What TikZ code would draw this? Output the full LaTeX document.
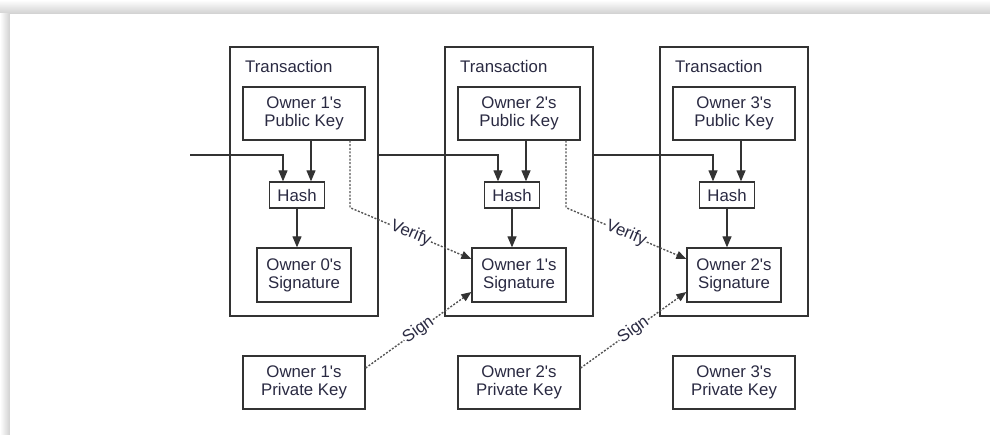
\documentclass[tikz,border=0pt]{standalone}
\usepackage{fontspec}
\setmainfont{Liberation Sans}
\usetikzlibrary{arrows.meta}
\definecolor{ink}{HTML}{2A2A42}
\definecolor{edge}{HTML}{333333}
\definecolor{dots}{HTML}{555555}
\definecolor{shade}{HTML}{D0D0D0}
\newcommand{\apos}{\textquotesingle}
\begin{document}
\begin{tikzpicture}[x=1pt,y=-1pt,
  font=\fontsize{16.8}{18}\selectfont,
  txbox/.style={draw=edge,line width=1.5pt,minimum width=148pt,minimum height=269pt,inner sep=0pt},
  box/.style={draw=edge,line width=1.3pt,text=ink,align=center,inner sep=0pt},
  keybox/.style={box,minimum width=122pt,minimum height=53pt},
  hashbox/.style={box,minimum width=55pt,minimum height=26pt},
  sigbox/.style={box,minimum width=94pt,minimum height=54pt},
  arr/.style={draw=edge,line width=1.2pt,-{Triangle[length=11pt,width=9pt]}},
  dotarr/.style={draw=dots,line width=1.4pt,dash pattern=on 2pt off 1.6pt,
    -{Triangle[length=10pt,width=8pt,color=edge]}},
  lbl/.style={sloped,fill=white,inner sep=0.5pt,text=ink}
]
\useasboundingbox (0,0) rectangle (990,435);
% page shadow along the top and left edges
\shade[top color=white,bottom color=shade] (0,0) rectangle (990,14);
\shade[left color=white,right color=shade] (0,14) rectangle (10,435);
\fill[white] (10,14) rectangle (990,435);

% three transaction columns
\foreach \i in {1,2,3}{
  \pgfmathsetmacro\cx{304+215*(\i-1)}
  \pgfmathtruncatemacro\prev{\i-1}
  \node[txbox] (T\i) at (\cx,181.5) {};
  \node[anchor=west,text=ink,inner sep=0pt] (L\i) at (\cx-59,66) {Transaction};
  \node[keybox] (PK\i) at (\cx,113.5) {Owner \i\apos s\\Public Key};
  \node[hashbox] (H\i) at (\cx-7,195) {Hash};
  \node[sigbox] (S\i) at (\cx,275) {Owner \prev\apos s\\Signature};
  \node[keybox] (P\i) at (\cx,382.5) {Owner \i\apos s\\Private Key};
  \draw[arr] ([xshift=7pt]PK\i.south) -- ([xshift=7pt]PK\i.south |- H\i.north);
  \draw[arr] (H\i.south) -- (H\i.south |- S\i.north);
}

% hash chain
\coordinate (in) at (190,155);
\draw[arr] (in) -| ([xshift=-14pt]H1.north);
\draw[arr] (T1.east |- in) -| ([xshift=-14pt]H2.north);
\draw[arr] (T2.east |- in) -| ([xshift=-14pt]H3.north);

% verification with the public key
\draw[dotarr] ([xshift=46pt]PK1.south) -- ++(0,67)
  -- node[lbl,pos=0.5] {Verify} ([yshift=16pt]S2.west);
\draw[dotarr] ([xshift=47pt]PK2.south) -- ++(0,67)
  -- node[lbl,pos=0.5] {Verify} ([yshift=16pt]S3.west);

% signing with the private key
\draw[dotarr] ([yshift=14.5pt]P1.east)
  -- node[lbl,pos=0.5] {Sign} ([yshift=-17pt]S2.west);
\draw[dotarr] ([yshift=14.5pt]P2.east)
  -- node[lbl,pos=0.5] {Sign} ([yshift=-17pt]S3.west);
\end{tikzpicture}
\end{document}
